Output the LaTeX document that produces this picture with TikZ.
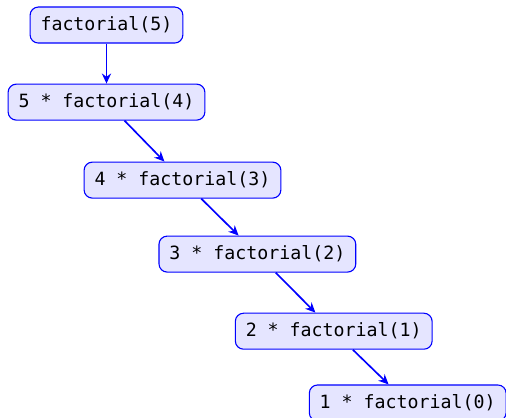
\documentclass[tikz,border=0pt]{standalone}
\usepackage{fontspec}
\setmonofont{DejaVu Sans Mono}
\usetikzlibrary{positioning, arrows.meta}

\begin{document}
\begin{tikzpicture}[
    call/.style={draw=blue, fill=blue!10, rounded corners=4.5pt, line width=0.6pt,
                 inner xsep=5.7pt, minimum height=19.7pt, font=\ttfamily\fontsize{10}{12}\selectfont},
    calls/.style={blue, line width=0.9pt, -{Stealth[length=5.5pt, width=5pt]}}
  ]
    \useasboundingbox (-58.3pt,13.7pt) rectangle (218.7pt,-215.1pt);
    \node (f5) [call] at (0,0) {factorial(5)};
    \node (f4) [call, below=21.9pt of f5] {5 * factorial(4)};
    \node (f3) [call, below=22.4pt of f4, xshift=41.6pt] {4 * factorial(3)};
    \node (f2) [call, below=20.2pt of f3, xshift=41pt] {3 * factorial(2)};
    \node (f1) [call, below=21.9pt of f2, xshift=41.8pt] {2 * factorial(1)};
    \node (f0) [call, below=19pt of f1, xshift=40.5pt] {1 * factorial(0)};
    % recursive calls
    \draw [calls] (f5) -- (f4);
    \draw [calls] (f4) -- (f3);
    \draw [calls] (f3) -- (f2);
    \draw [calls] (f2) -- (f1);
    \draw [calls] (f1) -- (f0);
\end{tikzpicture}
\end{document}
